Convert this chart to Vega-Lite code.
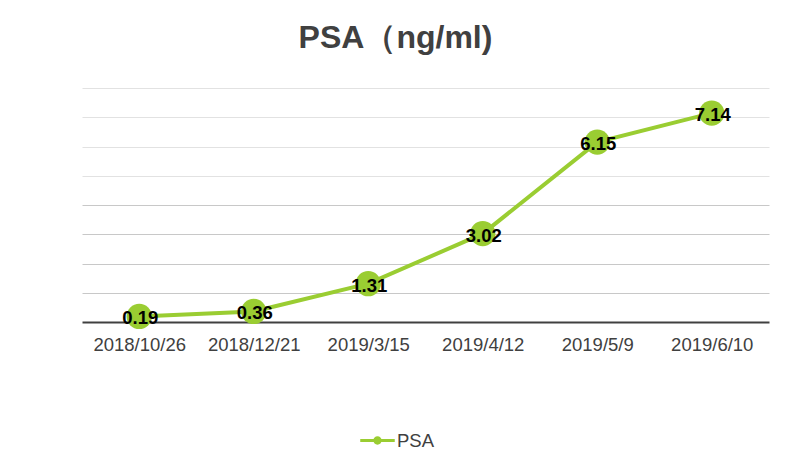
{
  "$schema": "https://vega.github.io/schema/vega-lite/v6.json",
  "width": 687,
  "height": 234,
  "autosize": {"type": "none"},
  "padding": {"left": 82, "top": 88, "right": 30, "bottom": 132},
  "background": "white",
  "config": {"view": {"stroke": null}, "font": "Liberation Sans"},
  "title": {
    "text": "PSA（ng/ml)",
    "fontSize": 32,
    "fontWeight": "bold",
    "color": "#404040",
    "font": "Liberation Sans",
    "anchor": "middle",
    "offset": 33,
    "dx": -30
  },
  "data": {
    "values": [
      {"date": "2018/10/26", "psa": 0.19, "series": "PSA"},
      {"date": "2018/12/21", "psa": 0.36, "series": "PSA"},
      {"date": "2019/3/15", "psa": 1.31, "series": "PSA"},
      {"date": "2019/4/12", "psa": 3.02, "series": "PSA"},
      {"date": "2019/5/9", "psa": 6.15, "series": "PSA"},
      {"date": "2019/6/10", "psa": 7.14, "series": "PSA"}
    ]
  },
  "encoding": {
    "x": {
      "field": "date",
      "type": "ordinal",
      "sort": null,
      "scale": {"paddingInner": 0, "paddingOuter": 0},
      "axis": {
        "title": null,
        "labelAngle": 0,
        "labelFontSize": 18.5,
        "labelColor": "#404040",
        "labelPadding": 13,
        "ticks": false,
        "domainColor": "#404040",
        "domainWidth": 2,
        "grid": false
      }
    },
    "y": {
      "field": "psa",
      "type": "quantitative",
      "scale": {"domain": [0, 8], "nice": false},
      "axis": {
        "title": null,
        "labels": false,
        "ticks": false,
        "domain": false,
        "values": [1, 2, 3, 4, 5, 6, 7, 8],
        "gridColor": {"condition": {"test": "datum.value >= 5", "value": "#e2e2e2"}, "value": "#c8c8c8"},
        "gridWidth": 1
      }
    }
  },
  "layer": [
    {
      "mark": {"type": "line", "strokeWidth": 4, "color": "#9ACD32"},
      "encoding": {
        "color": {
          "field": "series",
          "type": "nominal",
          "scale": {"range": ["#9ACD32"]},
          "legend": {
            "title": null,
            "orient": "none",
            "legendX": 278,
            "legendY": 335,
            "labelFontSize": 18.5,
            "labelColor": "#404040",
            "symbolType": "M -1 -0.09 H 1 V 0.09 H -1 Z M 0.24 0 A 0.24 0.24 0 1 1 -0.24 0 A 0.24 0.24 0 1 1 0.24 0 Z",
            "symbolSize": 1190,
            "symbolFillColor": "#9ACD32",
            "symbolStrokeWidth": 0,
            "labelOffset": 2
          }
        }
      }
    },
    {
      "mark": {"type": "point", "filled": true, "size": 640, "color": "#9ACD32", "opacity": 1}
    },
    {
      "mark": {"type": "text", "fontSize": 18.5, "fontWeight": "bold", "color": "#000000", "baseline": "middle", "dx": 1, "dy": 2},
      "encoding": {"text": {"field": "psa", "type": "quantitative", "format": ".2f"}}
    }
  ]
}
